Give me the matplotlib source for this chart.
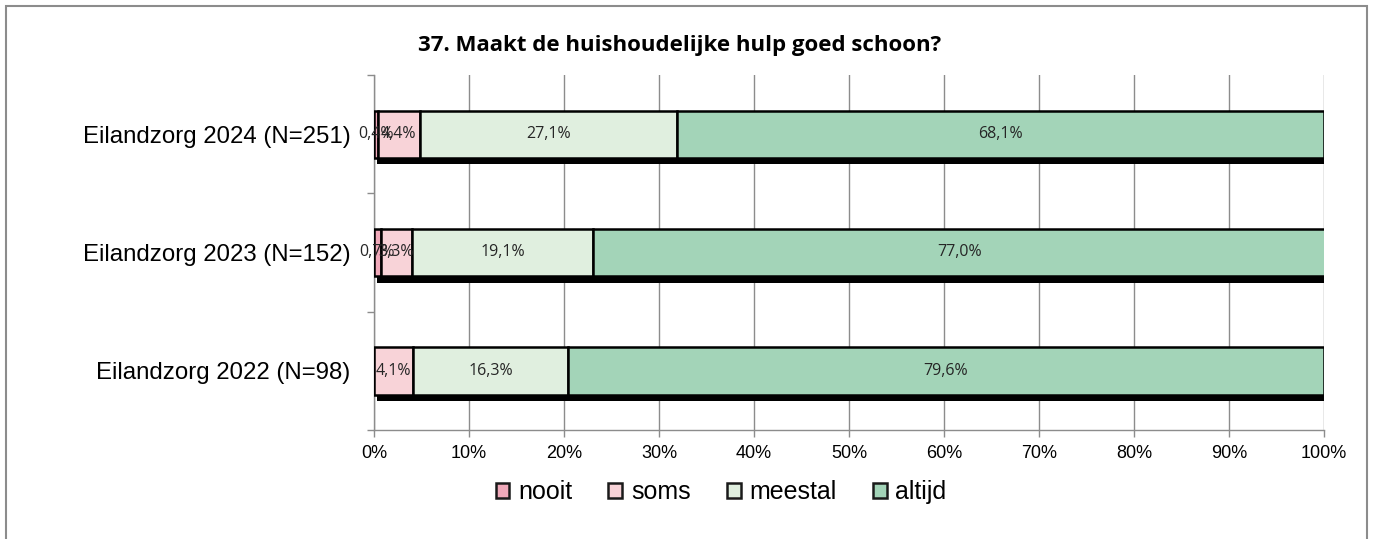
import matplotlib.pyplot as plt
from matplotlib.patches import Patch, Rectangle

categories = ["Eilandzorg 2022 (N=98)", "Eilandzorg 2023 (N=152)", "Eilandzorg 2024 (N=251)"]
series = ["nooit", "soms", "meestal", "altijd"]
nooit = [0.0, 0.7, 0.4]
soms = [4.1, 3.3, 4.4]
meestal = [16.3, 19.1, 27.1]
altijd = [79.6, 77.0, 68.1]
colors = ["#f0a9ba", "#f8d3d8", "#e0efdf", "#a3d4b8"]
xticks = [0, 10, 20, 30, 40, 50, 60, 70, 80, 90, 100]

fig = plt.figure(figsize=(13.73, 5.39), dpi=100)
ax = fig.add_axes([374 / 1373, 1 - 430 / 539, 950 / 1373, 355 / 539])

# outer frame
fig.patches.append(Rectangle((6 / 1373, -0.02), 1361 / 1373, 1.02 - 6 / 539,
                             transform=fig.transFigure, fill=False,
                             edgecolor="#8c8c8c", linewidth=1.5))

ypos = list(range(len(categories)))
h = 0.4
shadow = 0.055

# 3D-like shadow under each bar
totals = [a + b + c + d for a, b, c, d in zip(nooit, soms, meestal, altijd)]
ax.barh([y - shadow for y in ypos], [t - 0.3 for t in totals], left=0.3,
        height=h, color="black", zorder=2)

left = [0.0] * len(categories)
for name, vals, col in zip(series, [nooit, soms, meestal, altijd], colors):
    ax.barh(ypos, vals, left=left, height=h, color=col, edgecolor="black",
            linewidth=1.8, zorder=3)
    for y, l, v in zip(ypos, left, vals):
        if v > 0:
            ax.text(l + v / 2, y, f"{v:.1f}%".replace(".", ","), ha="center",
                    va="center", fontsize=11.5, color="#262626",
                    family="Open Sans", zorder=4)
    left = [l + v for l, v in zip(left, vals)]

ax.set_xlim(0, 100)
ax.set_ylim(-0.5, 2.5)
ax.set_xticks(xticks)
ax.set_xticklabels([f"{x}%" for x in xticks], fontsize=13, family="Liberation Sans")
ax.set_yticks(ypos)
ax.set_yticklabels(categories, fontsize=17.3, family="Liberation Sans")
ax.set_yticks([-0.5, 0.5, 1.5, 2.5], minor=True)
ax.tick_params(axis="y", which="major", length=0, pad=17)
ax.tick_params(axis="y", which="minor", length=5, color="#8c8c8c", width=1)
ax.tick_params(axis="x", length=5, color="#8c8c8c", width=1, pad=6)
ax.grid(axis="x", color="#8c8c8c", linewidth=1, zorder=0)
ax.set_axisbelow(True)
for s in ["top", "right"]:
    ax.spines[s].set_visible(False)
for s in ["left", "bottom"]:
    ax.spines[s].set_color("#8c8c8c")
    ax.spines[s].set_linewidth(1)

fig.text(680 / 1373, 1 - 45 / 539, "37. Maakt de huishoudelijke hulp goed schoon?",
         ha="center", va="center", fontsize=16, fontweight="bold", family="Open Sans")

handles = [Patch(facecolor=c, edgecolor="#1a1a1a", linewidth=1.8) for c in colors]
fig.legend(handles, series, loc="center", bbox_to_anchor=(721 / 1373, 1 - 492 / 539),
           ncol=4, frameon=False, handlelength=0.55, handleheight=0.55,
           handletextpad=0.35, columnspacing=1.45, prop={"family": "Liberation Sans", "size": 18})

fig.savefig("out.png", dpi=100)
